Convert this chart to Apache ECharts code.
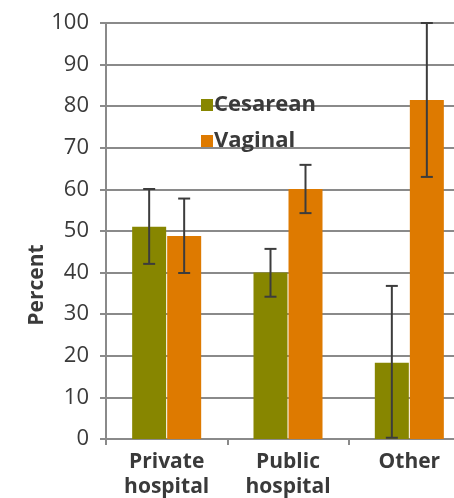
<!DOCTYPE html>
<html><head><meta charset="utf-8">
<script src="https://cdn.jsdelivr.net/npm/echarts@6/dist/echarts.min.js"></script>
<style>html,body{margin:0;padding:0;background:#fff}#c{width:454px;height:498px}</style>
</head><body><div id="c"></div>
<script>
const categories = ['Private\nhospital', 'Public\nhospital', 'Other'];
const cesarean = [51.0, 40.0, 18.3];
const cesareanLow = [42.1, 34.2, 0.3];
const cesareanHigh = [60.1, 45.7, 36.8];
const vaginal = [48.8, 60.1, 81.5];
const vaginalLow = [39.9, 54.3, 63.0];
const vaginalHigh = [57.8, 65.9, 100.0];
const yTicks = [0, 10, 20, 30, 40, 50, 60, 70, 80, 90, 100];

const FONT = 'Open Sans';
const TXT = '#3a3a3a';
const C_GREEN = '#878600';
const C_ORANGE = '#de7a00';
const BAR_W = 34;
const GAP = 1;

function errSeries(low, high, side) {
  return {
    type: 'custom',
    z: 10,
    silent: true,
    data: low.map((l, i) => [i, l, high[i]]),
    renderItem: function (params, api) {
      const i = api.value(0);
      const c = api.coord([i, api.value(1)]);
      const h = api.coord([i, api.value(2)]);
      const x = c[0] + side * (BAR_W + GAP) / 2;
      const cap = 6;
      const st = { stroke: '#3c3c3c', lineWidth: 2 };
      return {
        type: 'group',
        children: [
          { type: 'line', shape: { x1: x, y1: c[1], x2: x, y2: h[1] }, style: st },
          { type: 'line', shape: { x1: x - cap, y1: c[1], x2: x + cap, y2: c[1] }, style: st },
          { type: 'line', shape: { x1: x - cap, y1: h[1], x2: x + cap, y2: h[1] }, style: st }
        ]
      };
    }
  };
}

const chart = echarts.init(document.getElementById('c'), null, { renderer: 'canvas' });
chart.setOption({
  animation: false,
  textStyle: { fontFamily: FONT },
  grid: { left: 106, top: 23, bottom: 59, right: -16, containLabel: false, outerBoundsMode: 'none' },
  legend: {
    left: 196, top: 89, orient: 'vertical', itemWidth: 12, itemHeight: 12, itemGap: 14,
    icon: 'rect',
    textStyle: { fontFamily: FONT, fontWeight: 'bold', fontSize: 22, color: TXT, padding: [0, 0, 0, -4] },
    data: ['Cesarean', 'Vaginal']
  },
  xAxis: {
    type: 'category', data: categories,
    axisLine: { lineStyle: { color: '#8a8a8a', width: 2 } },
    axisTick: { show: true, length: 6, lineStyle: { color: '#8a8a8a', width: 2 } },
    axisLabel: { fontFamily: FONT, fontWeight: 'bold', fontSize: 21, color: TXT, lineHeight: 25, margin: 11 }
  },
  yAxis: {
    type: 'value', min: 0, max: 100, interval: 10,
    name: 'Percent', nameLocation: 'middle', nameGap: 58, nameRotate: 90, nameMoveOverlap: false,
    nameTextStyle: { fontFamily: FONT, fontWeight: 'bold', fontSize: 21, color: TXT, padding: [0, 0, 0, -108] },
    axisLine: { show: true, lineStyle: { color: '#8a8a8a', width: 2 } },
    axisTick: { show: true, length: 6, lineStyle: { color: '#8a8a8a', width: 2 } },
    axisLabel: { fontFamily: FONT, fontSize: 22, color: TXT, margin: 17,
      formatter: v => yTicks.includes(v) ? String(v) : '' },
    splitLine: { lineStyle: { color: '#8a8a8a', width: 2 } }
  },
  series: [
    { name: 'Cesarean', type: 'bar', data: cesarean, barWidth: BAR_W, barGap: '3%',
      itemStyle: { color: C_GREEN } },
    { name: 'Vaginal', type: 'bar', data: vaginal, barWidth: BAR_W, barGap: '3%',
      itemStyle: { color: C_ORANGE } },
    errSeries(cesareanLow, cesareanHigh, -1),
    errSeries(vaginalLow, vaginalHigh, 1)
  ]
});
</script></body></html>
